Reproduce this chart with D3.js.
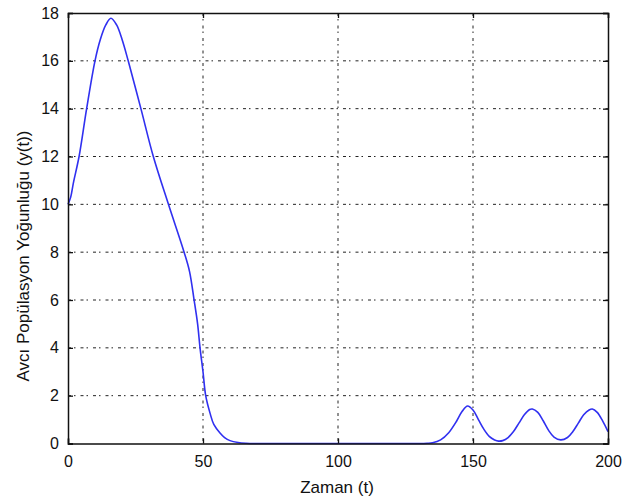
<!DOCTYPE html>
<html>
<head>
<meta charset="utf-8">
<script src="https://cdn.jsdelivr.net/npm/d3@7"></script>
<style>
  body { margin: 0; background: #fff; }
  svg text { font-family: "Liberation Sans", Arial, sans-serif; fill: #111; }
</style>
</head>
<body>
<div id="chart"></div>
<script>
// time values (t) and predator density y(t)
const timeVals = [0, 1, 2, 4.1, 6.9, 10, 12, 14, 15.9, 18, 20, 22.3, 27, 31.6, 37.2, 43, 45, 46.7, 48, 48.9, 50, 51, 52.6, 54, 56.3, 58, 60, 63, 66, 70,
  100, 130, 133, 135, 138, 141, 144, 146, 148, 150, 152, 154, 156, 158, 159.5, 161, 163, 165, 167, 169, 171, 172, 174, 176, 178, 180, 182.5, 185, 187, 189, 191, 193, 194.2, 196, 198, 200];
const densityVals = [10, 10.3, 10.9, 12, 14, 16, 16.9, 17.5, 17.78, 17.5, 16.9, 16, 14, 12, 10, 8, 7.2, 6, 5, 4, 3, 2, 1.27, 0.8, 0.44, 0.25, 0.12, 0.04, 0.01, 0,
  0, 0, 0.01, 0.03, 0.15, 0.45, 0.95, 1.35, 1.57, 1.4, 1.0, 0.6, 0.3, 0.15, 0.1, 0.12, 0.25, 0.5, 0.85, 1.2, 1.42, 1.44, 1.3, 0.95, 0.55, 0.27, 0.15, 0.25, 0.5, 0.85, 1.2, 1.4, 1.44, 1.3, 0.95, 0.5];
const xTicks = [0, 50, 100, 150, 200];
const yTicks = [0, 2, 4, 6, 8, 10, 12, 14, 16, 18];

const width = 624, height = 501;
const plotLeft = 68, plotRight = 608, plotTop = 13, plotBottom = 443.5;

const svg = d3.select("#chart").append("svg")
    .attr("width", width)
    .attr("height", height);

const x = d3.scaleLinear().domain([0, 200]).range([plotLeft, plotRight]);
const y = d3.scaleLinear().domain([0, 18]).range([plotBottom, plotTop]);

// grid lines (skip the ones on the box)
const grid = svg.append("g")
    .attr("stroke", "#222")
    .attr("stroke-width", 1)
    .attr("stroke-dasharray", "3,3,1.5,5");

grid.selectAll(".gx")
  .data(xTicks.slice(1, -1))
  .enter().append("line")
    .attr("x1", d => x(d)).attr("x2", d => x(d))
    .attr("y1", plotTop).attr("y2", plotBottom);

grid.selectAll(".gy")
  .data(yTicks.slice(1, -1))
  .enter().append("line")
    .attr("x1", plotLeft).attr("x2", plotRight)
    .attr("y1", d => y(d)).attr("y2", d => y(d));

// the curve
const pts = timeVals.map((t, i) => ({t: t, v: densityVals[i]}));
svg.append("path")
    .datum(pts)
    .attr("fill", "none")
    .attr("stroke", "#3030f0")
    .attr("stroke-width", 1.6)
    .attr("d", d3.line()
        .x(d => x(d.t))
        .y(d => y(Math.max(0, d.v)))
        .curve(d3.curveCatmullRom.alpha(0.5)));

// axes, ticks pointing inward like matlab
const axB = svg.append("g")
    .attr("transform", "translate(0," + plotBottom + ")")
    .call(d3.axisBottom(x).tickValues(xTicks).tickSize(-5).tickPadding(12));
const axL = svg.append("g")
    .attr("transform", "translate(" + plotLeft + ",0)")
    .call(d3.axisLeft(y).tickValues(yTicks).tickSize(-5).tickPadding(9));
const axT = svg.append("g")
    .attr("transform", "translate(0," + plotTop + ")")
    .call(d3.axisTop(x).tickValues(xTicks).tickSize(-5).tickFormat(""));
const axR = svg.append("g")
    .attr("transform", "translate(" + plotRight + ",0)")
    .call(d3.axisRight(y).tickValues(yTicks).tickSize(-5).tickFormat(""));

[axB, axL, axT, axR].forEach(a => {
  a.selectAll(".domain").attr("stroke", "#111").attr("stroke-width", 1.5);
  a.selectAll(".tick line").attr("stroke", "#111").attr("stroke-width", 1.3);
  a.selectAll("text").style("font-size", "16px").attr("fill", "#111");
});

// axis labels
svg.append("text")
    .attr("x", 337)
    .attr("y", 493)
    .attr("text-anchor", "middle")
    .style("font-size", "17px")
    .text("Zaman (t)");

svg.append("text")
    .attr("transform", "translate(29,256) rotate(-90)")
    .attr("text-anchor", "middle")
    .style("font-size", "17px")
    .text("Avcı Popülasyon Yoğunluğu (y(t))");
</script>
</body>
</html>
